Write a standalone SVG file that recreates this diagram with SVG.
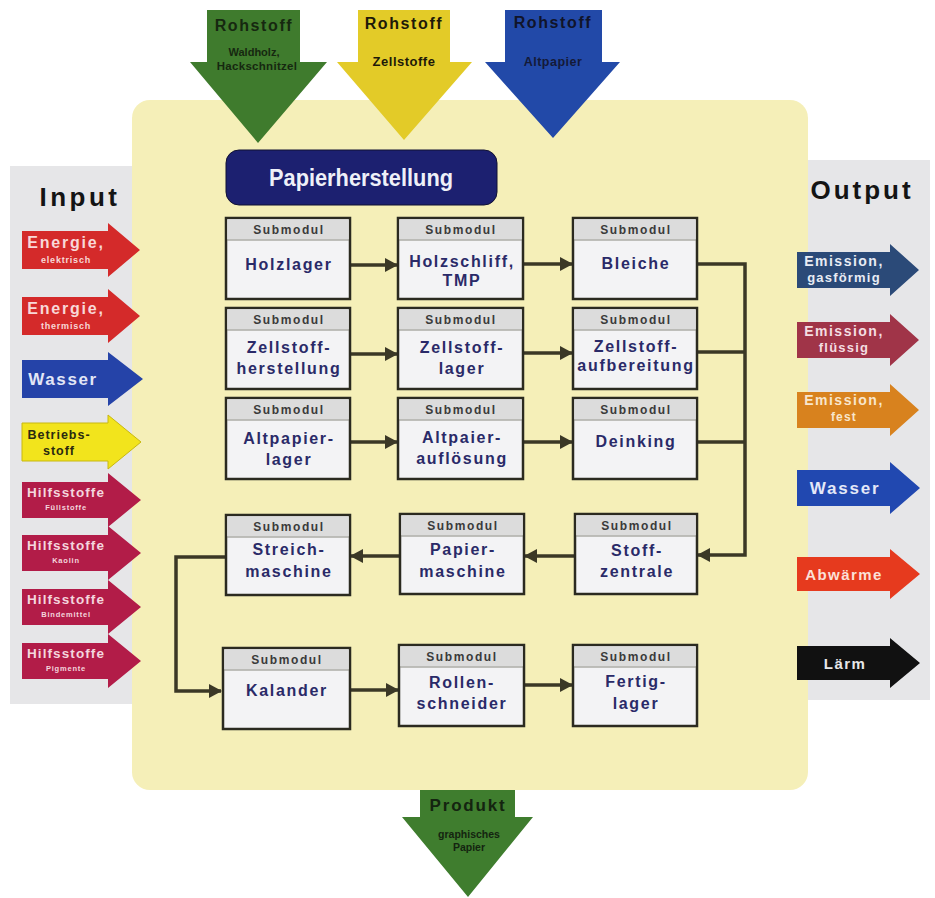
<svg xmlns="http://www.w3.org/2000/svg" width="935" height="898" viewBox="0 0 935 898">
  <defs>
    <marker id="ah" markerWidth="14" markerHeight="14" refX="12" refY="7" orient="auto" markerUnits="userSpaceOnUse">
      <path d="M0,0 L13,7 L0,14 Z" fill="#3b3826"/>
    </marker>
    <style>
      text { font-family: "Liberation Sans", Arial, sans-serif; font-weight: bold; text-anchor: middle; }
      .box { fill: #f3f3f5; stroke: #2b2a20; stroke-width: 2.5; }
      .band { fill: #dcdcdc; }
      .sep { stroke: #8a8a80; stroke-width: 1; }
      .sub { font-size: 12px; fill: #3a3a3a; letter-spacing: 1.6px; }
      .lbl { font-size: 16px; fill: #2a2a68; letter-spacing: 1.7px; }
      .conn { fill: none; stroke: #3b3826; stroke-width: 3.5; }
      .big { font-size: 16px; letter-spacing: 1.6px; }
      .small { font-size: 9px; letter-spacing: 0.8px; }
    </style>
  </defs>

  <rect width="935" height="898" fill="#ffffff"/>

  <!-- side panels -->
  <rect x="10" y="166" width="140" height="538" fill="#e6e6e8"/>
  <rect x="790" y="160" width="140" height="540" fill="#e6e6e8"/>

  <!-- main process area -->
  <rect x="132" y="100" width="676" height="690" rx="18" fill="#f5efb8"/>

  <!-- raw material arrows -->
  <g id="rohstoff-holz">
    <polygon points="207,10 300,10 300,62 327,62 258,143 190,62 207,62" fill="#3f7b2d"/>
    <text x="254" y="31" class="big" fill="#162810">Rohstoff</text>
    <text x="254" y="56" font-size="11" fill="#162810">Waldholz,</text>
    <text x="257" y="70" font-size="11.5" letter-spacing="0.3" fill="#162810">Hackschnitzel</text>
  </g>
  <g id="rohstoff-zellstoff">
    <polygon points="358,10 450,10 450,62 472,62 404,140 337,62 358,62" fill="#e3cb28"/>
    <text x="404" y="29" class="big" fill="#1e1a08">Rohstoff</text>
    <text x="404" y="66" font-size="13" letter-spacing="0.5" fill="#1e1a08">Zellstoffe</text>
  </g>
  <g id="rohstoff-altpapier">
    <polygon points="505,10 602,10 602,62 620,62 553,138 485,62 505,62" fill="#2249a8"/>
    <text x="553" y="28" class="big" fill="#10142a">Rohstoff</text>
    <text x="553" y="66" font-size="12.5" letter-spacing="0.5" fill="#141a38">Altpapier</text>
  </g>

  <!-- title -->
  <g id="titel">
    <rect x="226" y="150" width="271" height="55" rx="13" fill="#1c2070" stroke="#111133" stroke-width="1"/>
    <text x="361" y="186" font-size="24" font-weight="normal" fill="#eef0f8" textLength="184" lengthAdjust="spacingAndGlyphs">Papierherstellung</text>
  </g>

  <!-- input side -->
  <text x="80" y="206" font-size="26" fill="#141414" letter-spacing="3.5">Input</text>
  <g id="in-energie-el">
    <polygon points="22,231 108,231 108,223 140,250 108,277 108,269 22,269" fill="#d42a2a"/>
    <text x="66" y="248" font-size="16" letter-spacing="1.8" fill="#f8d8d8">Energie,</text>
    <text x="66" y="263" class="small" fill="#f8d8d8">elektrisch</text>
  </g>
  <g id="in-energie-th">
    <polygon points="22,297 108,297 108,289 140,316 108,343 108,335 22,335" fill="#d42a2a"/>
    <text x="66" y="314" font-size="16" letter-spacing="1.8" fill="#f8d8d8">Energie,</text>
    <text x="66" y="329" class="small" fill="#f8d8d8">thermisch</text>
  </g>
  <g id="in-wasser">
    <polygon points="22,360 108,360 108,352 143,379 108,406 108,398 22,398" fill="#2543a8"/>
    <text x="63" y="385" font-size="17" letter-spacing="1.6" fill="#e2e6f6">Wasser</text>
  </g>
  <g id="in-betriebsstoff">
    <polygon points="22,423 108,423 108,415 141,442 108,469 108,461 22,461" fill="#f2e41c" stroke="#c8b810" stroke-width="1"/>
    <text x="59" y="439" font-size="12.5" letter-spacing="1" fill="#2a2a10">Betriebs-</text>
    <text x="59" y="455" font-size="12.5" letter-spacing="1" fill="#2a2a10">stoff</text>
  </g>
  <g id="in-hilfs-1">
    <polygon points="22,482 108,482 108,473 141,500 108,527 108,518 22,518" fill="#b21c48"/>
    <text x="66" y="497" font-size="13.5" letter-spacing="1.1" fill="#f4d6de">Hilfsstoffe</text>
    <text x="66" y="510" font-size="7.5" letter-spacing="0.8" fill="#f4d6de">Füllstoffe</text>
  </g>
  <g id="in-hilfs-2">
    <polygon points="22,535 108,535 108,526 141,553 108,580 108,571 22,571" fill="#b21c48"/>
    <text x="66" y="550" font-size="13.5" letter-spacing="1.1" fill="#f4d6de">Hilfsstoffe</text>
    <text x="66" y="563" font-size="7.5" letter-spacing="0.8" fill="#f4d6de">Kaolin</text>
  </g>
  <g id="in-hilfs-3">
    <polygon points="22,589 108,589 108,580 141,607 108,634 108,625 22,625" fill="#b21c48"/>
    <text x="66" y="604" font-size="13.5" letter-spacing="1.1" fill="#f4d6de">Hilfsstoffe</text>
    <text x="66" y="617" font-size="7.5" letter-spacing="0.8" fill="#f4d6de">Bindemittel</text>
  </g>
  <g id="in-hilfs-4">
    <polygon points="22,643 108,643 108,634 141,661 108,688 108,679 22,679" fill="#b21c48"/>
    <text x="66" y="658" font-size="13.5" letter-spacing="1.1" fill="#f4d6de">Hilfsstoffe</text>
    <text x="66" y="671" font-size="7.5" letter-spacing="0.8" fill="#f4d6de">Pigmente</text>
  </g>

  <!-- output side -->
  <text x="862" y="199" font-size="26" fill="#141414" letter-spacing="3">Output</text>
  <g id="out-emission-gas">
    <polygon points="797,252 890,252 890,244 919,270 890,296 890,288 797,288" fill="#2b4a78"/>
    <text x="844" y="266" font-size="14" letter-spacing="1.5" fill="#e8ecf4">Emission,</text>
    <text x="844" y="282" font-size="13" letter-spacing="1.2" fill="#e8ecf4">gasförmig</text>
  </g>
  <g id="out-emission-fl">
    <polygon points="797,322 890,322 890,314 919,340 890,366 890,358 797,358" fill="#a03448"/>
    <text x="844" y="336" font-size="14" letter-spacing="1.5" fill="#f4dde2">Emission,</text>
    <text x="844" y="352" font-size="13" letter-spacing="1.2" fill="#f4dde2">flüssig</text>
  </g>
  <g id="out-emission-fest">
    <polygon points="797,392 890,392 890,384 919,410 890,436 890,428 797,428" fill="#d8821e"/>
    <text x="844" y="405" font-size="14" letter-spacing="1.5" fill="#f8e6cc">Emission,</text>
    <text x="844" y="421" font-size="12" letter-spacing="1.2" fill="#f8e6cc">fest</text>
  </g>
  <g id="out-wasser">
    <polygon points="797,470 890,470 890,462 920,488 890,514 890,506 797,506" fill="#2148b0"/>
    <text x="845" y="494" font-size="17" letter-spacing="1.8" fill="#e4e8f8">Wasser</text>
  </g>
  <g id="out-abwaerme">
    <polygon points="797,557 890,557 890,549 920,574 890,599 890,591 797,591" fill="#e63a1e"/>
    <text x="844" y="580" font-size="15" letter-spacing="1.4" fill="#fbe0d8">Abwärme</text>
  </g>
  <g id="out-laerm">
    <polygon points="797,646 890,646 890,638 920,663 890,688 890,680 797,680" fill="#111111"/>
    <text x="845" y="669" font-size="15" letter-spacing="1.4" fill="#e8e8e8">Lärm</text>
  </g>

  <!-- product arrow -->
  <g id="produkt">
    <polygon points="420,790 515,790 515,817 533,817 468,897 402,817 420,817" fill="#3f7d2e"/>
    <text x="468" y="811" font-size="17" letter-spacing="1.8" fill="#142410">Produkt</text>
    <text x="469" y="838" font-size="10.5" fill="#142410">graphisches</text>
    <text x="469" y="851" font-size="10.5" fill="#142410">Papier</text>
  </g>

  <!-- connectors -->
  <g id="connectors">
    <line class="conn" x1="350" y1="265" x2="397" y2="265" marker-end="url(#ah)"/>
    <line class="conn" x1="523" y1="264" x2="572" y2="264" marker-end="url(#ah)"/>
    <line class="conn" x1="350" y1="354" x2="397" y2="354" marker-end="url(#ah)"/>
    <line class="conn" x1="523" y1="353" x2="572" y2="353" marker-end="url(#ah)"/>
    <line class="conn" x1="350" y1="442" x2="397" y2="442" marker-end="url(#ah)"/>
    <line class="conn" x1="523" y1="442" x2="572" y2="442" marker-end="url(#ah)"/>
    <polyline class="conn" points="697,264 745,264 745,555 698,555" marker-end="url(#ah)"/>
    <line class="conn" x1="697" y1="352" x2="745" y2="352"/>
    <line class="conn" x1="697" y1="442" x2="745" y2="442"/>
    <line class="conn" x1="575" y1="556" x2="525" y2="556" marker-end="url(#ah)"/>
    <line class="conn" x1="400" y1="556" x2="351" y2="556" marker-end="url(#ah)"/>
    <polyline class="conn" points="226,557 176,557 176,691 221,691" marker-end="url(#ah)"/>
    <line class="conn" x1="350" y1="690" x2="398" y2="690" marker-end="url(#ah)"/>
    <line class="conn" x1="523" y1="685" x2="572" y2="685" marker-end="url(#ah)"/>
  </g>

  <!-- submodules -->
  <g id="holzlager">
    <rect class="box" x="226" y="218" width="124" height="81"/>
    <rect class="band" x="227.3" y="219.3" width="121.4" height="20"/>
    <line class="sep" x1="227" y1="240" x2="349" y2="240"/>
    <text class="sub" x="289" y="234">Submodul</text>
    <text class="lbl" x="289" y="270">Holzlager</text>
  </g>
  <g id="holzschliff">
    <rect class="box" x="398" y="218" width="125" height="81"/>
    <rect class="band" x="399.3" y="219.3" width="122.4" height="20"/>
    <line class="sep" x1="399" y1="240" x2="522" y2="240"/>
    <text class="sub" x="461" y="234">Submodul</text>
    <text class="lbl" x="462" y="267">Holzschliff,</text>
    <text class="lbl" x="462" y="286">TMP</text>
  </g>
  <g id="bleiche">
    <rect class="box" x="573" y="218" width="124" height="81"/>
    <rect class="band" x="574.3" y="219.3" width="121.4" height="20"/>
    <line class="sep" x1="574" y1="240" x2="696" y2="240"/>
    <text class="sub" x="636" y="234">Submodul</text>
    <text class="lbl" x="636" y="269">Bleiche</text>
  </g>

  <g id="zellstoffherstellung">
    <rect class="box" x="226" y="308" width="124" height="81"/>
    <rect class="band" x="227.3" y="309.3" width="121.4" height="20"/>
    <line class="sep" x1="227" y1="330" x2="349" y2="330"/>
    <text class="sub" x="289" y="324">Submodul</text>
    <text class="lbl" x="289" y="353">Zellstoff-</text>
    <text class="lbl" x="289" y="374">herstellung</text>
  </g>
  <g id="zellstofflager">
    <rect class="box" x="398" y="308" width="125" height="81"/>
    <rect class="band" x="399.3" y="309.3" width="122.4" height="20"/>
    <line class="sep" x1="399" y1="330" x2="522" y2="330"/>
    <text class="sub" x="461" y="324">Submodul</text>
    <text class="lbl" x="462" y="353">Zellstoff-</text>
    <text class="lbl" x="462" y="374">lager</text>
  </g>
  <g id="zellstoffaufbereitung">
    <rect class="box" x="573" y="308" width="124" height="81"/>
    <rect class="band" x="574.3" y="309.3" width="121.4" height="20"/>
    <line class="sep" x1="574" y1="330" x2="696" y2="330"/>
    <text class="sub" x="636" y="324">Submodul</text>
    <text class="lbl" x="636" y="352">Zellstoff-</text>
    <text class="lbl" x="636" y="371" letter-spacing="1.2">aufbereitung</text>
  </g>

  <g id="altpapierlager">
    <rect class="box" x="226" y="398" width="124" height="81"/>
    <rect class="band" x="227.3" y="399.3" width="121.4" height="20"/>
    <line class="sep" x1="227" y1="420" x2="349" y2="420"/>
    <text class="sub" x="289" y="414">Submodul</text>
    <text class="lbl" x="289" y="444">Altpapier-</text>
    <text class="lbl" x="289" y="465">lager</text>
  </g>
  <g id="altpapieraufloesung">
    <rect class="box" x="398" y="398" width="125" height="81"/>
    <rect class="band" x="399.3" y="399.3" width="122.4" height="20"/>
    <line class="sep" x1="399" y1="420" x2="522" y2="420"/>
    <text class="sub" x="461" y="414">Submodul</text>
    <text class="lbl" x="462" y="443">Altpaier-</text>
    <text class="lbl" x="462" y="464">auflösung</text>
  </g>
  <g id="deinking">
    <rect class="box" x="573" y="398" width="124" height="81"/>
    <rect class="band" x="574.3" y="399.3" width="121.4" height="20"/>
    <line class="sep" x1="574" y1="420" x2="696" y2="420"/>
    <text class="sub" x="636" y="414">Submodul</text>
    <text class="lbl" x="636" y="447">Deinking</text>
  </g>

  <g id="streichmaschine">
    <rect class="box" x="226" y="515" width="124" height="80"/>
    <rect class="band" x="227.3" y="516.3" width="121.4" height="20"/>
    <line class="sep" x1="227" y1="537" x2="349" y2="537"/>
    <text class="sub" x="289" y="531">Submodul</text>
    <text class="lbl" x="289" y="555">Streich-</text>
    <text class="lbl" x="289" y="577">maschine</text>
  </g>
  <g id="papiermaschine">
    <rect class="box" x="400" y="514" width="124" height="80"/>
    <rect class="band" x="401.3" y="515.3" width="121.4" height="20"/>
    <line class="sep" x1="401" y1="536" x2="523" y2="536"/>
    <text class="sub" x="463" y="530">Submodul</text>
    <text class="lbl" x="463" y="555">Papier-</text>
    <text class="lbl" x="463" y="577">maschine</text>
  </g>
  <g id="stoffzentrale">
    <rect class="box" x="575" y="514" width="122" height="80"/>
    <rect class="band" x="576.3" y="515.3" width="119.4" height="20"/>
    <line class="sep" x1="576" y1="536" x2="696" y2="536"/>
    <text class="sub" x="637" y="530">Submodul</text>
    <text class="lbl" x="637" y="556">Stoff-</text>
    <text class="lbl" x="637" y="577">zentrale</text>
  </g>

  <g id="kalander">
    <rect class="box" x="223" y="648" width="127" height="81"/>
    <rect class="band" x="224.3" y="649.3" width="124.4" height="20"/>
    <line class="sep" x1="224" y1="670" x2="349" y2="670"/>
    <text class="sub" x="287" y="664">Submodul</text>
    <text class="lbl" x="287" y="696">Kalander</text>
  </g>
  <g id="rollenschneider">
    <rect class="box" x="399" y="645" width="125" height="81"/>
    <rect class="band" x="400.3" y="646.3" width="122.4" height="20"/>
    <line class="sep" x1="400" y1="667" x2="523" y2="667"/>
    <text class="sub" x="462" y="661">Submodul</text>
    <text class="lbl" x="462" y="688">Rollen-</text>
    <text class="lbl" x="462" y="709">schneider</text>
  </g>
  <g id="fertiglager">
    <rect class="box" x="573" y="645" width="124" height="81"/>
    <rect class="band" x="574.3" y="646.3" width="121.4" height="20"/>
    <line class="sep" x1="574" y1="667" x2="696" y2="667"/>
    <text class="sub" x="636" y="661">Submodul</text>
    <text class="lbl" x="636" y="687">Fertig-</text>
    <text class="lbl" x="636" y="709">lager</text>
  </g>
</svg>
